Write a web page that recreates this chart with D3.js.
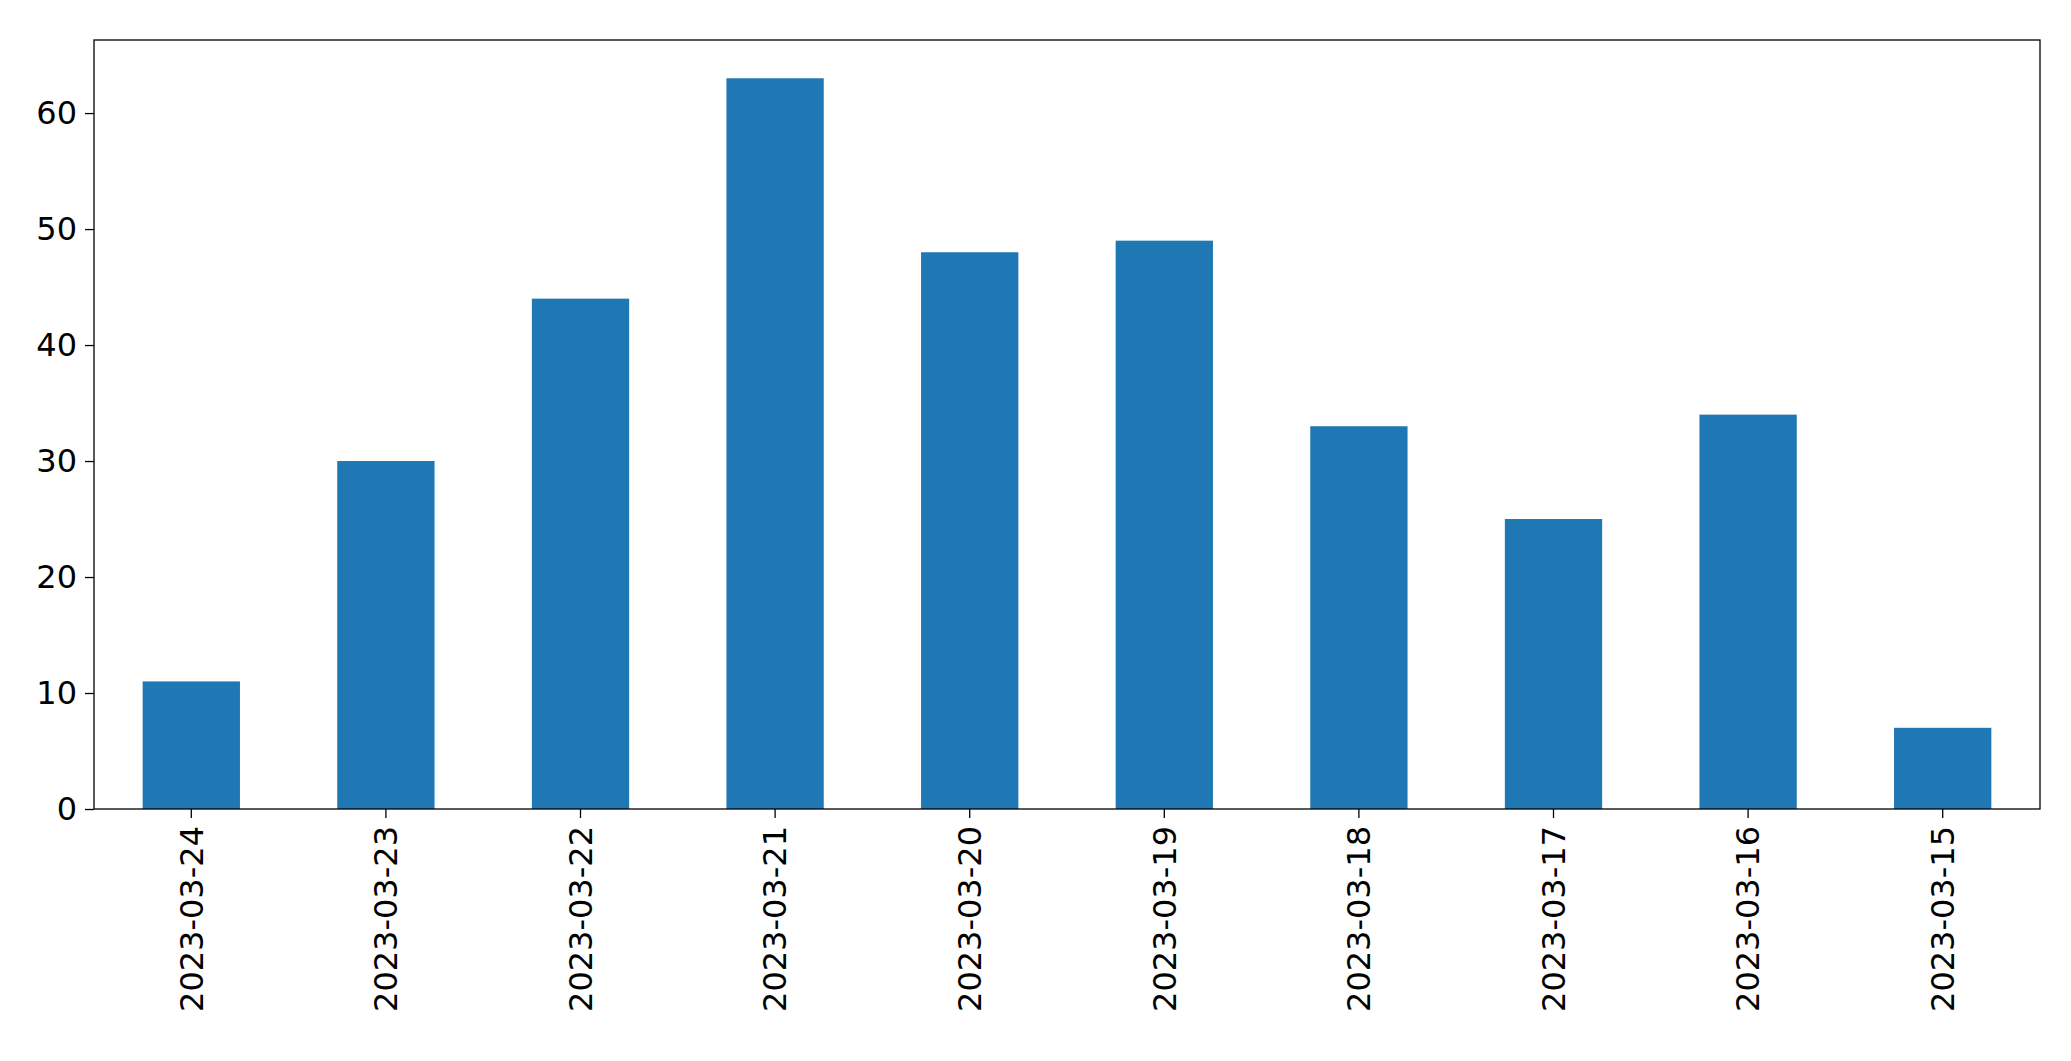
<!DOCTYPE html><html><head><script src="https://cdn.jsdelivr.net/npm/d3@7"></script>
<style>body{margin:0;background:#fff}</style></head><body><svg id="c" width="2071" height="1061"></svg>
<script>
const categories=["2023-03-24","2023-03-23","2023-03-22","2023-03-21","2023-03-20","2023-03-19","2023-03-18","2023-03-17","2023-03-16","2023-03-15"];
const values=[11,30,44,63,48,49,33,25,34,7];
const yTicks=[0,10,20,30,40,50,60];
const m={l:94,r:2040,t:40,b:809};
const svg=d3.select("#c");
const x=d3.scaleBand().domain(categories).range([m.l,m.r]).paddingInner(0.5).paddingOuter(0.25);
const y=d3.scaleLinear().domain([0,66.3]).range([m.b,m.t]);
svg.selectAll("rect.bar").data(values).join("rect").attr("fill","#1f77b4")
 .attr("x",(d,i)=>x(categories[i])).attr("width",x.bandwidth()).attr("y",d=>y(d)).attr("height",d=>m.b-y(d));
const ff="DejaVu Sans";
const ya=svg.append("g").attr("transform",`translate(${m.l},0)`).call(d3.axisLeft(y).tickValues(yTicks).tickSize(9).tickPadding(8));
ya.selectAll("text").attr("font-family",ff).attr("font-size",32).attr("fill","#000");
const xa=svg.append("g").attr("transform",`translate(0,${m.b})`).call(d3.axisBottom(x).tickSize(9).tickPadding(8));
xa.selectAll("text").attr("font-family",ff).attr("font-size",32).attr("fill","#000")
 .attr("transform","rotate(-90)").attr("text-anchor","end").attr("dy","0.35em").attr("x",-17).attr("y",0);
svg.selectAll(".domain").remove();
svg.selectAll(".tick line").attr("stroke","#000").attr("stroke-width",1.3);
svg.append("rect").attr("x",m.l).attr("y",m.t).attr("width",m.r-m.l).attr("height",m.b-m.t).attr("fill","none").attr("stroke","#000").attr("stroke-width",1.3);
</script></body></html>
